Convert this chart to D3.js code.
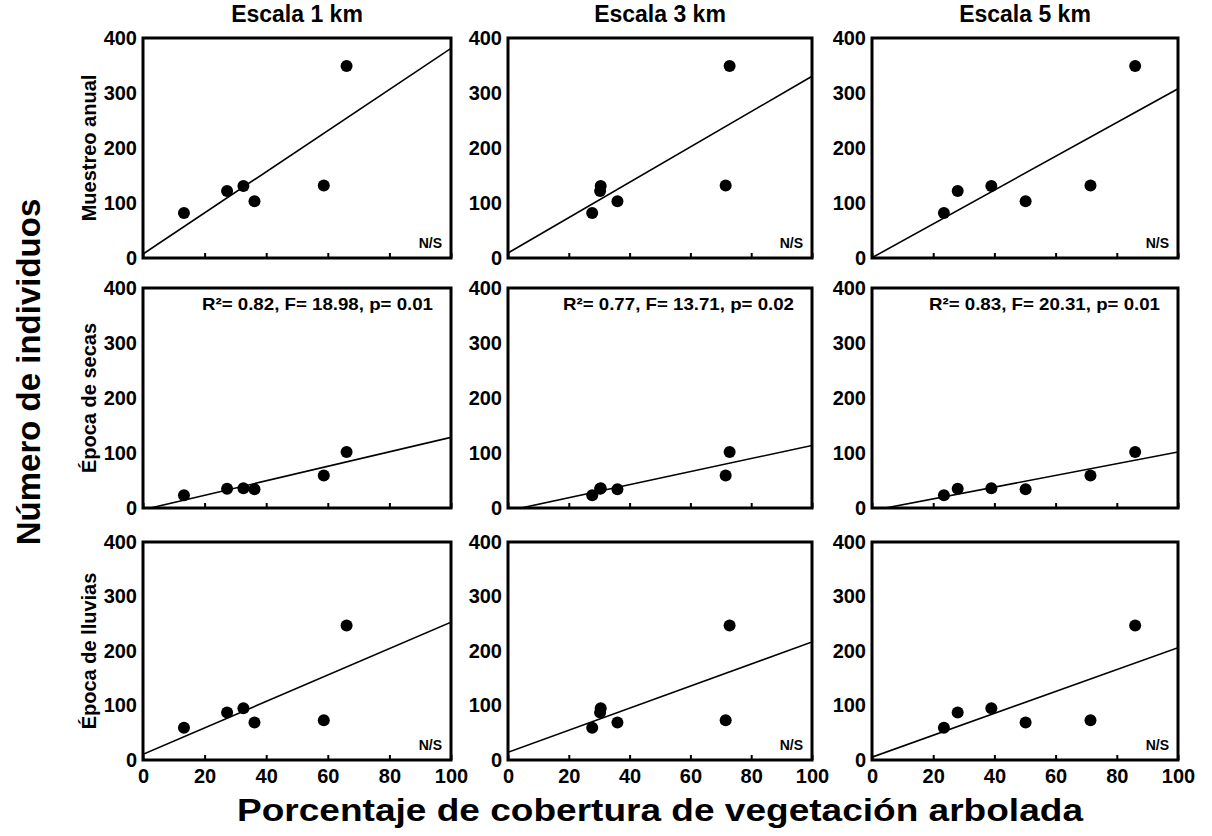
<!DOCTYPE html>
<html>
<head>
<meta charset="utf-8">
<script src="https://cdn.jsdelivr.net/npm/d3@7"></script>
<style>
  html, body { margin: 0; padding: 0; background: #fff; }
  svg { display: block; font-family: "Liberation Sans", Arial, sans-serif; }
  text { font-weight: bold; fill: #000; }
</style>
</head>
<body>
<svg id="chart" width="1212" height="836"></svg>
<script>
// ---------- DATA ----------
const scaleTitles = ["Escala 1 km", "Escala 3 km", "Escala 5 km"];
const seasonLabels = ["Muestreo anual", "Época de secas", "Época de lluvias"];

// % cobertura de vegetación arbolada, per site, for each scale
const cobertura1km = [13.3, 27.3, 32.6, 36.2, 58.7, 66.1];
const cobertura3km = [27.7, 30.3, 30.5, 36.0, 71.6, 72.9];
const cobertura5km = [23.5, 28.0, 39.0, 50.2, 71.4, 86.0];

// Número de individuos per site
const individuosAnual   = [82, 122, 131, 103, 132, 349];
const individuosSecas   = [23, 35, 36, 34, 59, 102];
const individuosLluvias = [59, 87, 95, 69, 73, 247];

// annotations per row (season) and column (scale)
const notesAnual   = ["N/S", "N/S", "N/S"];
const notesSecas   = ["R²= 0.82, F= 18.98, p= 0.01", "R²= 0.77, F= 13.71, p= 0.02", "R²= 0.83, F= 20.31, p= 0.01"];
const notesLluvias = ["N/S", "N/S", "N/S"];

const xTicks = [0, 20, 40, 60, 80, 100];
const yTicks = [0, 100, 200, 300, 400];

// ---------- LAYOUT ----------
const coberturas = [cobertura1km, cobertura3km, cobertura5km];
const individuos = [individuosAnual, individuosSecas, individuosLluvias];
const notes = [notesAnual, notesSecas, notesLluvias];

const colLeft  = [143, 508, 872];
const colRight = [451, 812, 1178];
const rowTop    = [38, 288, 542];
const rowBottom = [258, 508, 760];

const svg = d3.select("#chart");

function fit(xs, ys) {
  const mx = d3.mean(xs), my = d3.mean(ys);
  let sxy = 0, sxx = 0;
  xs.forEach((x, i) => { sxy += (x - mx) * (ys[i] - my); sxx += (x - mx) * (x - mx); });
  const b = sxy / sxx;
  return { a: my - b * mx, b };
}

scaleTitles.forEach((t, c) => {
  svg.append("text")
    .attr("x", (colLeft[c] + colRight[c]) / 2)
    .attr("y", 22)
    .attr("text-anchor", "middle")
    .style("font-size", "23px")
    .text(t);
});

for (let r = 0; r < 3; r++) {
  for (let c = 0; c < 3; c++) {
    const x = d3.scaleLinear().domain([0, 100]).range([colLeft[c], colRight[c]]);
    const y = d3.scaleLinear().domain([0, 400]).range([rowBottom[r], rowTop[r]]);
    const g = svg.append("g");
    const clipId = `clip-${r}-${c}`;
    g.append("clipPath").attr("id", clipId)
      .append("rect")
      .attr("x", x(0)).attr("y", y(400))
      .attr("width", x(100) - x(0)).attr("height", y(0) - y(400));

    // x axis (ticks pointing inward)
    const xAxis = g.append("g")
      .attr("transform", `translate(0,${y(0)})`)
      .call(d3.axisBottom(x).tickValues(xTicks).tickSizeInner(-5).tickSizeOuter(0).tickPadding(9)
        .tickFormat(r === 2 ? d3.format("d") : () => ""));
    xAxis.select(".domain").remove();
    xAxis.selectAll(".tick line").attr("stroke", "#000").attr("stroke-width", 2);
    xAxis.selectAll(".tick text").style("font-size", "20px").style("font-family", "inherit");

    // y axis labels
    const yAxis = g.append("g")
      .attr("transform", `translate(${x(0)},0)`)
      .call(d3.axisLeft(y).tickValues(yTicks).tickSize(0).tickPadding(6).tickFormat(d3.format("d")));
    yAxis.select(".domain").remove();
    yAxis.selectAll(".tick text").style("font-size", "20px").style("font-family", "inherit");

    // regression line
    const xs = coberturas[c], ys = individuos[r];
    const f = fit(xs, ys);
    g.append("line")
      .attr("clip-path", `url(#${clipId})`)
      .attr("x1", x(0)).attr("y1", y(f.a))
      .attr("x2", x(100)).attr("y2", y(f.a + f.b * 100))
      .attr("stroke", "#000").attr("stroke-width", 1.6);

    // points
    g.selectAll("circle.pt").data(xs.map((v, i) => [v, ys[i]])).join("circle")
      .attr("class", "pt")
      .attr("cx", d => x(d[0])).attr("cy", d => y(d[1]))
      .attr("r", 6).attr("fill", "#000");

    // frame
    g.append("rect")
      .attr("x", x(0)).attr("y", y(400))
      .attr("width", x(100) - x(0)).attr("height", y(0) - y(400))
      .attr("fill", "none").attr("stroke", "#000").attr("stroke-width", 3);

    // annotation
    const note = notes[r][c];
    if (note === "N/S") {
      g.append("text")
        .attr("x", x(100) - 9).attr("y", y(0) - 10)
        .attr("text-anchor", "end")
        .style("font-size", "14px")
        .text(note);
    } else {
      g.append("text")
        .attr("x", x(100) - 249).attr("y", y(400) + 22)
        .attr("textLength", 231).attr("lengthAdjust", "spacingAndGlyphs")
        .style("font-size", "17px")
        .text(note);
    }
  }
  // row label
  svg.append("text")
    .attr("transform", `translate(96,${(rowTop[r] + rowBottom[r]) / 2}) rotate(-90)`)
    .attr("text-anchor", "middle")
    .style("font-size", "20px")
    .text(seasonLabels[r]);
}

// axis titles
svg.append("text")
  .attr("transform", "translate(40,372) rotate(-90)")
  .attr("text-anchor", "middle")
  .style("font-size", "33px")
  .text("Número de individuos");

svg.append("text")
  .attr("x", 237).attr("y", 821)
  .attr("textLength", 846).attr("lengthAdjust", "spacingAndGlyphs")
  .style("font-size", "31px")
  .text("Porcentaje de cobertura de vegetación arbolada");
</script>
</body>
</html>
